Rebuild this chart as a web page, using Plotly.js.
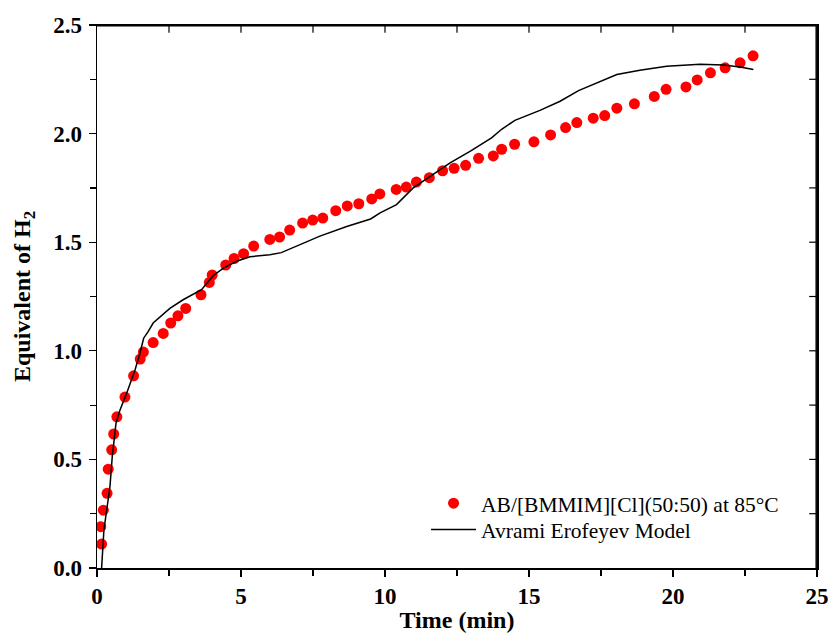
<!DOCTYPE html>
<html>
<head>
<meta charset="utf-8">
<script src="https://cdn.plot.ly/plotly-3.0.1.min.js"></script>
<style>html,body{margin:0;padding:0;background:#fff;overflow:hidden;}#chart{width:830px;height:633px;}</style>
</head>
<body>
<div id="chart"></div>
<script>
// Experimental data: AB/[BMMIM][Cl](50:50) at 85°C
const expTime = [0.16,0.13,0.22,0.35,0.39,0.51,0.58,0.69,0.97,1.27,1.50,1.61,1.95,2.30,2.56,2.81,3.08,3.61,3.90,4.00,4.47,4.76,5.09,5.44,6.00,6.34,6.69,7.14,7.49,7.84,8.29,8.69,9.09,9.54,9.82,10.39,10.74,11.09,11.54,12.00,12.40,12.80,13.25,13.76,14.05,14.50,15.17,15.75,16.27,16.66,17.23,17.63,18.05,18.66,19.35,19.76,20.45,20.84,21.30,21.81,22.33,22.78];
const expH2 = [0.11,0.19,0.266,0.344,0.455,0.544,0.617,0.696,0.787,0.885,0.962,0.994,1.038,1.08,1.128,1.161,1.195,1.258,1.315,1.349,1.395,1.425,1.447,1.482,1.513,1.524,1.556,1.588,1.602,1.611,1.645,1.667,1.677,1.699,1.722,1.743,1.754,1.777,1.797,1.829,1.840,1.854,1.886,1.897,1.928,1.951,1.962,1.994,2.028,2.051,2.071,2.083,2.117,2.137,2.171,2.204,2.215,2.247,2.280,2.303,2.326,2.358];

// Avrami Erofeyev model fit
const modelTime = [0.16,0.24,0.45,0.53,0.66,0.80,1.03,1.32,1.49,1.62,1.78,1.95,2.53,2.99,3.63,3.86,4.04,4.39,4.85,5.31,5.66,6.00,6.40,6.93,7.40,7.74,8.67,9.50,9.83,10.40,10.98,11.56,12.26,12.95,13.70,14.05,14.51,15.38,16.08,16.72,17.47,18.05,18.85,19.78,20.94,21.75,22.33,22.79];
const modelH2 = [0.0,0.175,0.375,0.513,0.667,0.728,0.805,0.912,0.989,1.058,1.089,1.128,1.195,1.235,1.281,1.319,1.347,1.381,1.412,1.433,1.436,1.442,1.452,1.481,1.506,1.528,1.572,1.607,1.635,1.673,1.75,1.803,1.865,1.918,1.98,2.02,2.061,2.107,2.149,2.198,2.241,2.272,2.292,2.310,2.319,2.316,2.307,2.295];

const seriesNames = ['AB/[BMMIM][Cl](50:50) at 85°C', 'Avrami Erofeyev Model'];
const xTitle = 'Time (min)';
const yTitle = 'Equivalent of H<sub>2</sub>';

// axis ranges and tick steps
const xRange = [0, 25], xMajor = 5, xMinor = 2.5;
const yRange = [0, 2.5], yMajor = 0.5, yMinor = 0.25;

const serif = 'Liberation Serif, Times New Roman, serif';
const W = 830, H = 633;
const M = {l: 97, r: 13, t: 25, b: 65};
const plotW = W - M.l - M.r, plotH = H - M.t - M.b;

// top and right frame lines (slightly inside the plot edge) with inward ticks,
// built from the axis ranges and tick steps
const pxX = (xRange[1] - xRange[0]) / plotW, pxY = (yRange[1] - yRange[0]) / plotH;
const tickPx = 7, insetPx = 0.8;
const xEdge = xRange[1] - insetPx * pxX, yEdge = yRange[1] - insetPx * pxY;
const edgeX = [xRange[0], xEdge, xEdge];
const edgeY = [yEdge, yEdge, yRange[0]];
const tickX = [], tickY = [];
for (let v = xRange[0] + xMinor; v < xRange[1] - 1e-9; v += xMinor) {
  tickX.push(v, v, null); tickY.push(yEdge, yEdge - tickPx * pxY, null);
}
for (let v = yRange[0] + yMinor; v < yRange[1] - 1e-9; v += yMinor) {
  tickX.push(xEdge, xEdge - tickPx * pxX, null); tickY.push(v, v, null);
}

const traces = [
  {x: expTime, y: expH2, type: 'scatter', mode: 'markers', name: seriesNames[0],
   marker: {color: '#ff0000', size: 11}, legend: 'legend'},
  {x: modelTime, y: modelH2, type: 'scatter', mode: 'lines', name: seriesNames[1],
   line: {color: '#000000', width: 1.5}, legend: 'legend2'},
  {x: edgeX, y: edgeY, type: 'scatter', mode: 'lines', showlegend: false, name: 'frame',
   line: {color: '#000000', width: 1.5}},
  {x: tickX, y: tickY, type: 'scatter', mode: 'lines', showlegend: false, name: 'frame ticks',
   connectgaps: false, line: {color: '#000000', width: 1.2}}
];

const tickFont = {family: serif, size: 23, color: '#000', weight: 'bold'};
const titleFont = {family: serif, size: 24, color: '#000', weight: 'bold'};
const minorOut = {ticks: 'outside', ticklen: 6, tickcolor: '#000', tickwidth: 1.2};
const axisCommon = {
  showgrid: false, zeroline: false, showline: true, mirror: true, linecolor: '#000', linewidth: 1.5,
  tickcolor: '#000', tickwidth: 1.2, ticklen: 7, tickfont: tickFont
};
const legendFont = {family: serif, size: 21.5, color: '#000'};

const layout = {
  width: W, height: H, margin: M,
  paper_bgcolor: '#fff', plot_bgcolor: 'rgba(0,0,0,0)',
  font: {family: serif, color: '#000'},
  xaxis: Object.assign({}, axisCommon, {
    range: xRange, tick0: 0, dtick: xMajor, ticks: 'outside',
    minor: Object.assign({dtick: xMinor}, minorOut),
    title: {text: xTitle, font: titleFont, standoff: 4}
  }),
  yaxis: Object.assign({}, axisCommon, {
    range: yRange, tick0: 0, dtick: yMajor, tickformat: '.1f', ticks: 'outside',
    ticklabelstandoff: 2,
    minor: Object.assign({dtick: yMinor}, minorOut),
    title: {text: yTitle, font: titleFont, standoff: 16}
  }),
  legend: {x: 0.457, y: 0.157, xanchor: 'left', yanchor: 'top', bgcolor: 'rgba(0,0,0,0)', font: legendFont, itemwidth: 45},
  legend2: {x: 0.457, y: 0.1087, xanchor: 'left', yanchor: 'top', bgcolor: 'rgba(0,0,0,0)', font: legendFont, itemwidth: 45},
  showlegend: true
};

Plotly.newPlot('chart', traces, layout, {displayModeBar: false, staticPlot: true});
</script>
</body>
</html>
